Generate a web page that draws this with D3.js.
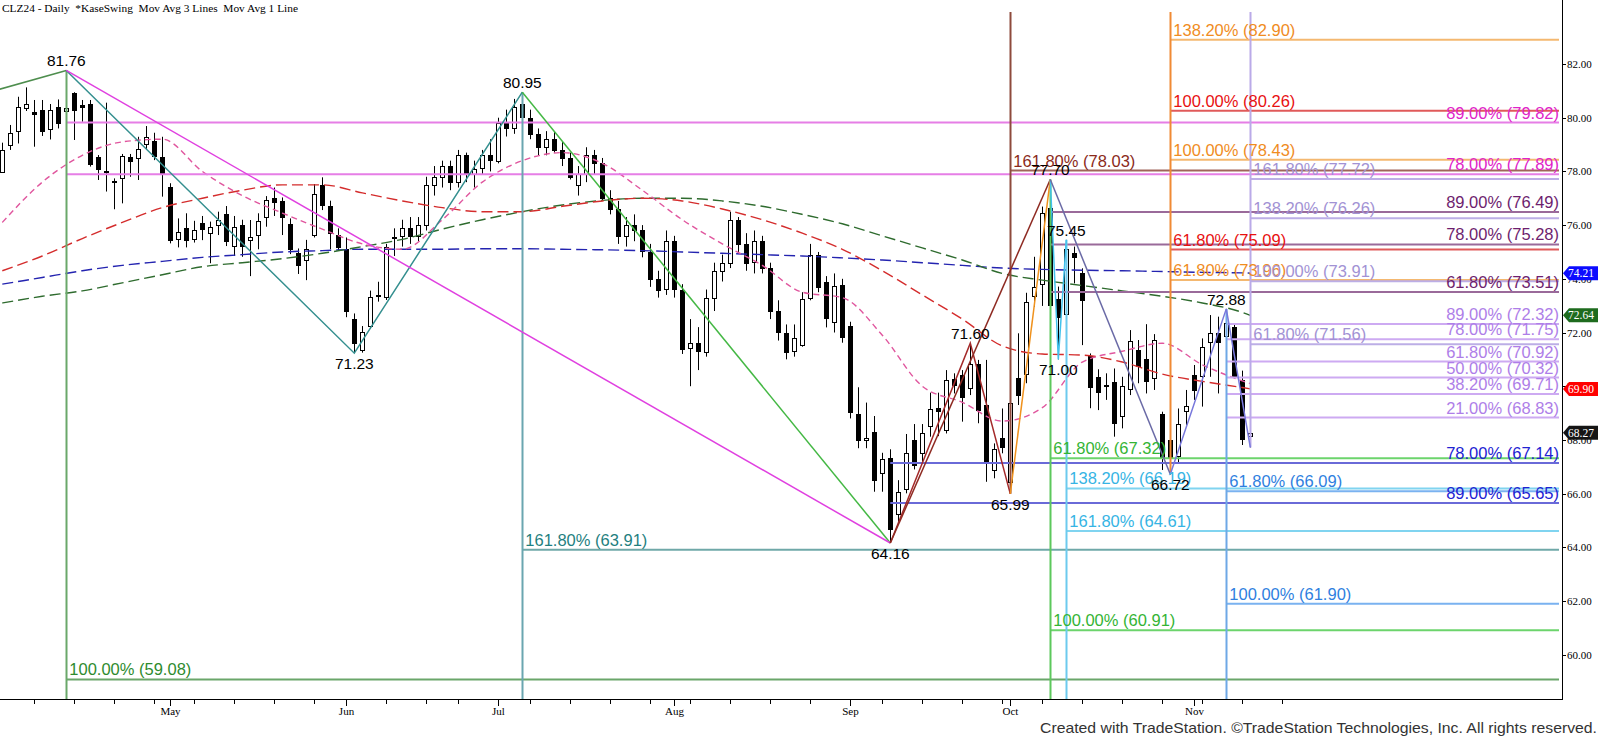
<!DOCTYPE html>
<html>
<head>
<meta charset="utf-8">
<title>CLZ24 - Daily</title>
<script src="https://cdn.jsdelivr.net/npm/d3@7"></script>
<style>
  html, body { margin: 0; padding: 0; background: #fff; }
  svg { display: block; }
  text { font-family: "Liberation Sans", Arial, sans-serif; }
  .serif { font-family: "Liberation Serif", "Times New Roman", serif; }
</style>
</head>
<body>
<svg id="chart" width="1600" height="739"></svg>
<script>
// ---------- data ----------
const holidays = ["2024-05-27", "2024-06-19", "2024-07-04", "2024-09-02"]
const firstDay = "2024-04-02"
const lastDay = "2024-11-18" // axis keeps a few empty sessions after the last bar

// daily bars, Apr 2 .. Nov 12 2024
const opens = [
  77.99, 78.98, 79.48, 80.35, 80.21, 80.29, 79.60, 80.41, 80.25, 80.91,
  80.46, 80.51, 78.55, 78.00, 77.63, 77.74, 78.55, 78.47, 79.04, 79.14,
  78.55, 77.41, 75.47, 75.88, 75.47, 76.07, 75.69, 76.00, 76.40, 75.22,
  76.00, 75.45, 75.63, 76.31, 77.00, 76.91, 76.04, 74.97, 74.68, 75.63,
  77.49, 76.71, 75.63, 75.10, 72.49, 71.37, 72.24, 73.40, 73.31, 75.50,
  75.6, 75.9, 75.6, 76.0, 77.5, 77.8, 78.2, 77.6, 78.6, 77.9,
  78.1, 78.6, 78.4, 79.8, 79.6, 80.5, 80.0, 79.4, 78.9, 79.2,
  78.8, 78.5, 77.5, 77.9, 78.6, 78.3, 77.0, 76.6, 75.6, 76.0,
  75.8, 75.0, 74.0, 73.6, 75.4, 73.6, 71.4, 71.6, 71.3, 73.3,
  74.3, 74.6, 76.2, 75.3, 74.6, 75.4, 74.4, 72.8, 72.0, 71.3,
  71.53, 73.3, 74.9, 73.89, 72.40, 73.77, 72.24, 68.97, 68.00, 68.28,
  66.75, 67.31, 65.23, 66.16, 67.99, 67.50, 68.52, 69.20, 68.37, 70.26,
  70.42, 69.92, 70.82, 69.30, 66.88, 68.06, 66.40, 70.29, 70.48, 73.36,
  73.83, 76.62, 73.23, 72.69, 74.97, 74.23, 71.12, 70.35, 70.06, 70.17,
  68.89, 69.92, 71.33, 71.00, 70.29, 68.96, 67.99, 67.40, 69.09, 70.42,
  70.38, 71.62, 71.99, 71.87, 72.22, 70.23, 68.14
]
const highs = [
  79.07, 79.73, 80.78, 81.13, 80.66, 80.66, 80.51, 80.68, 81.76, 80.95,
  80.66, 80.66, 78.61, 80.56, 77.74, 78.65, 78.65, 79.29, 79.69, 79.44,
  79.29, 77.56, 76.25, 76.44, 76.16, 76.34, 76.13, 76.50, 76.71, 76.34,
  76.20, 76.19, 76.44, 77.08, 77.40, 77.03, 76.25, 75.13, 75.45, 77.53,
  77.78, 76.91, 75.88, 75.54, 72.71, 72.24, 73.56, 73.89, 75.30, 75.88,
  76.2, 76.3, 76.3, 77.8, 78.2, 78.4, 78.4, 78.8, 78.7, 78.4,
  78.8, 79.2, 80.0, 80.3, 80.7, 80.95, 80.3, 79.6, 79.5, 79.5,
  79.1, 78.7, 78.2, 78.9, 78.8, 78.5, 77.3, 76.9, 76.3, 76.4,
  76.0, 75.3, 74.3, 75.8, 75.6, 73.8, 72.5, 72.2, 73.6, 74.6,
  74.9, 76.5, 76.3, 75.7, 75.8, 75.6, 74.6, 73.2, 72.3, 72.3,
  73.5, 75.3, 75.0, 74.1, 74.2, 74.0, 72.40, 69.96, 69.39, 68.89,
  67.52, 67.65, 66.50, 68.22, 68.59, 68.59, 69.76, 69.76, 70.60, 70.48,
  70.60, 71.60, 70.98, 70.98, 67.87, 69.17, 69.61, 71.97, 73.48, 74.82,
  76.69, 77.70, 73.71, 75.45, 75.20, 74.39, 71.22, 70.63, 70.48, 70.66,
  70.35, 72.09, 71.72, 72.31, 71.94, 69.05, 68.12, 69.17, 69.86, 70.79,
  71.78, 72.65, 72.59, 72.88, 72.28, 70.58, 69.14
]
const lows = [
  77.95, 78.80, 79.04, 80.25, 78.92, 79.32, 79.19, 79.60, 80.10, 79.17,
  79.85, 78.18, 77.68, 77.25, 76.59, 76.81, 77.80, 77.68, 78.80, 78.42,
  77.06, 75.32, 75.17, 75.17, 75.35, 75.44, 74.58, 75.63, 75.22, 74.85,
  74.82, 74.10, 75.10, 75.94, 76.34, 75.63, 74.92, 74.18, 73.95, 75.54,
  76.56, 75.10, 75.05, 72.57, 71.23, 71.25, 72.15, 73.15, 73.21, 74.85,
  75.2, 75.3, 75.4, 75.8, 77.1, 77.4, 77.3, 77.4, 77.6, 77.4,
  77.9, 78.0, 78.3, 79.3, 79.4, 79.8, 79.2, 78.6, 78.6, 78.7,
  78.2, 77.7, 77.1, 77.6, 77.9, 76.9, 76.4, 75.3, 75.2, 75.4,
  74.8, 73.7, 73.3, 73.4, 73.3, 71.2, 70.0, 70.6, 71.1, 72.8,
  73.9, 74.4, 75.0, 74.3, 74.2, 74.2, 72.5, 71.7, 71.0, 71.1,
  71.47, 73.2, 73.5, 72.19, 72.0, 71.62, 68.80, 67.69, 67.69, 66.07,
  66.07, 64.16, 64.83, 66.01, 66.90, 67.19, 68.12, 68.14, 68.24, 69.73,
  68.68, 69.67, 68.62, 66.44, 66.57, 67.50, 65.99, 69.30, 70.11, 72.96,
  72.99, 72.09, 71.00, 72.53, 73.83, 71.53, 69.18, 69.11, 69.49, 68.12,
  68.43, 69.67, 70.11, 69.73, 69.86, 66.88, 66.72, 67.13, 68.56, 69.49,
  69.24, 70.35, 69.73, 71.72, 70.29, 67.81, 67.72
]
const closes = [
  78.80, 79.42, 80.39, 80.50, 80.14, 79.52, 80.29, 79.81, 80.35, 80.26,
  80.39, 78.28, 78.11, 77.95, 77.60, 78.57, 78.40, 78.82, 79.29, 78.57,
  77.93, 75.42, 75.73, 75.44, 75.82, 75.84, 75.92, 76.19, 75.38, 75.92,
  75.20, 75.55, 76.16, 76.93, 76.84, 76.31, 75.10, 74.51, 75.10, 77.16,
  76.75, 75.69, 75.17, 72.78, 71.60, 72.03, 73.31, 73.38, 75.17, 75.55,
  75.9, 75.6, 76.0, 77.5, 77.8, 78.2, 77.6, 78.6, 77.9, 78.1,
  78.6, 78.4, 79.8, 79.6, 80.4, 80.0, 79.4, 78.9, 79.2, 78.8,
  78.5, 77.8, 77.9, 78.6, 78.3, 77.0, 76.6, 75.6, 76.0, 75.8,
  75.0, 74.0, 73.6, 75.4, 73.6, 71.4, 71.6, 71.3, 73.3, 74.3,
  74.6, 76.2, 75.3, 74.6, 75.4, 74.4, 72.8, 72.0, 71.3, 71.8,
  73.24, 74.9, 73.7, 72.56, 73.73, 71.85, 69.02, 68.02, 68.06, 66.48,
  67.28, 64.67, 66.05, 67.50, 67.06, 68.24, 69.14, 69.08, 70.23, 70.05,
  69.59, 70.83, 69.09, 67.15, 67.65, 67.72, 69.36, 69.67, 73.15, 73.68,
  76.46, 72.99, 72.56, 75.10, 74.82, 73.21, 69.98, 69.80, 70.04, 68.64,
  70.01, 71.70, 70.73, 70.17, 71.72, 67.31, 67.37, 68.59, 69.26, 69.86,
  71.45, 71.97, 71.66, 72.34, 70.36, 68.02, 68.27
]

// moving averages every 5th bar (last one at the final bar)
const maBars = d3.range(0, 156, 5).concat([156])
const maBlue = [73.8, 74.05, 74.3, 74.5, 74.65, 74.8, 74.9, 75.0, 75.05, 75.1, 75.1, 75.1, 75.12, 75.12, 75.1, 75.08, 75.05,
  75.0, 74.95, 74.9, 74.85, 74.78, 74.7, 74.6, 74.5, 74.4, 74.35, 74.32, 74.3, 74.27, 74.24, 74.22, 74.21]
const maGreen = [73.1, 73.35, 73.55, 73.85, 74.15, 74.45, 74.6, 74.75, 74.95, 75.2, 75.47, 75.85, 76.2, 76.5, 76.75, 76.92, 77.0,
  77.0, 76.9, 76.7, 76.4, 76.05, 75.6, 75.15, 74.7, 74.2, 73.95, 73.75, 73.55, 73.35, 73.1, 72.75, 72.64]
const maRed = [74.3, 74.85, 75.5, 76.1, 76.65, 77.0, 77.3, 77.5, 77.5, 77.2, 76.9, 76.65, 76.5, 76.5, 76.7, 76.9, 77.0,
  76.9, 76.6, 76.2, 75.7, 75.1, 74.3, 73.4, 72.5, 71.5, 71.2, 71.16, 70.9, 70.45, 70.18, 69.95, 69.9]
const maPink = [76.1, 77.6, 78.6, 79.1, 79.2, 78.0, 77.1, 76.45, 75.85, 75.3, 75.1, 76.2, 77.6, 78.4, 78.7, 78.3, 77.3,
  76.2, 75.3, 74.5, 73.5, 73.3, 71.9, 70.0, 69.4, 68.7, 69.2, 70.9, 71.3, 71.6, 70.8, 70.2, 70.1]

// KaseSwing turning points
const swingBars = [8, 44, 65, 111, 121, 126, 131, 132, 133, 146, 153]
const swingPrices = [81.76, 71.23, 80.95, 64.16, 71.60, 65.99, 77.70, 71.00, 75.45, 66.72, 72.88]
const swingKinds = ["H", "L", "H", "L", "H", "L", "H", "L", "H", "L", "H"]

// swing legs as [bar, price] points
const legs = [
  ["lead", [[-2, 80.92], [8, 81.76]]],
  ["teal", [[8, 81.76], [44, 71.23], [65, 80.95]]],
  ["green", [[65, 80.95], [111, 64.16]]],
  ["magenta", [[8, 81.76], [111, 64.16]]],
  ["darkRed", [[111, 64.16], [121, 71.60], [126, 65.99]]],
  ["brown", [[111, 64.16], [131, 77.70]]],
  ["orange", [[126, 65.99], [131, 77.70]]],
  ["cyan", [[131, 77.70], [132, 71.00], [133, 75.45]]],
  ["slate", [[131, 77.70], [146, 66.72]]],
  ["indigo", [[146, 66.72], [153, 72.88], [156, 67.72]]]
]

// vertical markers: [style, bar, from price, to price]; null runs to the plot edge
const markers = [
  ["darkGreen", 8, 81.76, null],
  ["teal", 65, 80.95, null],
  ["brown", 126, null, 65.99],
  ["green", 131, 77.70, null],
  ["cyan", 133, 75.45, null],
  ["orange", 146, null, 66.72],
  ["sky", 153, 72.88, null],
  ["lavender", 156, null, 67.72]
]

// fibonacci projections: [percent, price], each group starts at a bar
const fibDarkGreen = [["100.00%", 59.08]]
const fibTeal = [["161.80%", 63.91]]
const fibMagenta = [["89.00%", 79.82], ["78.00%", 77.89]]
const fibBrown = [["161.80%", 78.03]]
const fibOrange = [["138.20%", 82.90], ["100.00%", 78.43], ["61.80%", 73.96]]
const fibRed = [["100.00%", 80.26], ["61.80%", 75.09]]
const fibLavender = [["161.80%", 77.72], ["138.20%", 76.26], ["100.00%", 73.91], ["61.80%", 71.56]]
const fibPlum = [["89.00%", 76.49], ["78.00%", 75.28], ["61.80%", 73.51]]
const fibViolet = [["89.00%", 72.32], ["78.00%", 71.75], ["61.80%", 70.92], ["50.00%", 70.32], ["38.20%", 69.71], ["21.00%", 68.83]]
const fibGreen = [["61.80%", 67.32], ["100.00%", 60.91]]
const fibCyan = [["138.20%", 66.19], ["161.80%", 64.61]]
const fibBlue = [["78.00%", 67.14], ["89.00%", 65.65]]
const fibSky = [["61.80%", 66.09], ["100.00%", 61.90]]
const fibGroups = [
  ["darkGreen", 8, fibDarkGreen], ["teal", 65, fibTeal], ["magenta", 8, fibMagenta], ["brown", 126, fibBrown],
  ["orange", 146, fibOrange], ["red", 146, fibRed], ["lavender", 156, fibLavender], ["plum", 131, fibPlum],
  ["violet", 153, fibViolet], ["green", 131, fibGreen], ["cyan", 133, fibCyan], ["blue", 111, fibBlue], ["sky", 153, fibSky]
]

const tagPrices = [74.21, 72.64, 69.90, 68.27]
const priceTicks = d3.range(60, 83, 2)
const title = "CLZ24 - Daily  *KaseSwing  Mov Avg 3 Lines  Mov Avg 1 Line"
const credit = "Created with TradeStation. \u00A9TradeStation Technologies, Inc. All rights reserved."

// ---------- styles ----------
const legColor = {
  lead: "#4e8e4e", teal: "#348f8f", green: "#44b844", magenta: "#e040e0", darkRed: "#a42a2a", brown: "#8e2a22",
  orange: "#f0921e", cyan: "#42c2ec", slate: "#6a6aa6", indigo: "#7878dc"
}
const markColor = {
  darkGreen: "#6aa86a", teal: "#6aa6b0", brown: "#8e4a3c", green: "#5cc85c", cyan: "#6ccaee",
  orange: "#f08a34", sky: "#6ea8e6", lavender: "#baaae8"
}
const fibStyle = {
  darkGreen: { line: "#6aa66a", text: "#2e8b2e", side: "start" },
  teal: { line: "#6fa8a8", text: "#1f7f7f", side: "start" },
  magenta: { line: "#e67ee6", text: "#e024c8", side: "end" },
  brown: { line: "#a0645a", text: "#8b2a1a", side: "start" },
  orange: { line: "#f4b870", text: "#f08c1e", side: "start" },
  red: { line: "#e05a5a", text: "#e81010", side: "start" },
  lavender: { line: "#bcaee6", text: "#a292d4", side: "start" },
  plum: { line: "#9a6a9a", text: "#6e1e6e", side: "end" },
  violet: { line: "#cdaaf2", text: "#ae7ee8", side: "end" },
  green: { line: "#6cd46c", text: "#34b434", side: "start" },
  cyan: { line: "#80d4f0", text: "#36b4e4", side: "start" },
  blue: { line: "#6a6ad8", text: "#2222d2", side: "end" },
  sky: { line: "#7ab2f0", text: "#2f7fe0", side: "start" }
}
const maStyle = [
  { values: maBlue, color: "#2424b0", dash: "11,5" },
  { values: maGreen, color: "#2e6b2e", dash: "11,5" },
  { values: maRed, color: "#d42c2c", dash: "11,5" },
  { values: maPink, color: "#e0569e", dash: "6,4" }
]
const tagColors = ["#0c0cff", "#1e6b1e", "#ff0000", "#151515"]

// ---------- layout ----------
const svg = d3.select("#chart")
const plot = { left: 0, top: 0, right: 1562, bottom: 699, lineEnd: 1559, markTop: 12 }

// one session every 8px, bar 0 sits at x = 2.3
const x = d3.scaleLinear().domain([-0.2875, 194.9625]).range([plot.left, plot.right])
const y = d3.scaleLinear().domain([84.384, 58.35]).range([plot.top, plot.bottom])

const parse = d3.timeParse("%Y-%m-%d")
const fmt = d3.timeFormat("%Y-%m-%d")
const sessions = d3.timeDay.range(parse(firstDay), d3.timeDay.offset(parse(lastDay), 1))
  .filter(d => d.getDay() % 6 !== 0 && !holidays.includes(fmt(d)))
const idx = sessions.map((d, i) => i)
const weekStarts = idx.filter(i => i > 0 && sessions[i].getDay() < sessions[i - 1].getDay())
const monthStarts = idx.filter(i => i > 0 && sessions[i].getMonth() !== sessions[i - 1].getMonth())

svg.append("defs").append("clipPath").attr("id", "plotClip")
  .append("rect").attr("x", plot.left).attr("y", plot.top)
  .attr("width", plot.right - plot.left).attr("height", plot.bottom - plot.top)

const focus = svg.append("g").attr("clip-path", "url(#plotClip)")
const px = i => Math.round(x(i))

// candles
const bars = closes.map((c, i) => ({ i, o: opens[i], h: highs[i], l: lows[i], c }))
const candle = focus.append("g").selectAll("g").data(bars).enter().append("g")
candle.append("line")
  .attr("x1", d => px(d.i) + 0.5).attr("x2", d => px(d.i) + 0.5)
  .attr("y1", d => y(d.h)).attr("y2", d => y(d.l))
  .attr("stroke", "#000").attr("stroke-width", 1)
candle.append("rect")
  .attr("x", d => px(d.i) - 1.5)
  .attr("y", d => Math.round(y(Math.max(d.o, d.c))) + 0.5)
  .attr("width", 4)
  .attr("height", d => Math.max(1, Math.round(Math.abs(y(d.o) - y(d.c)))))
  .attr("fill", d => d.c >= d.o ? "#fff" : "#000")
  .attr("stroke", "#000").attr("stroke-width", 1)

// moving averages
const maLine = d3.line().x(d => x(d[0])).y(d => y(d[1])).curve(d3.curveMonotoneX)
focus.append("g").selectAll("path").data(maStyle).enter().append("path")
  .attr("d", s => maLine(maBars.map((b, k) => [b, s.values[k]])))
  .attr("fill", "none").attr("stroke", s => s.color)
  .attr("stroke-width", 1.4).attr("stroke-dasharray", s => s.dash)

// fibonacci levels
const fibRows = fibGroups.flatMap(([key, from, levels]) => levels.map(([pct, p]) => ({ key, from, pct, p })))
focus.append("g").selectAll("line").data(fibRows).enter().append("line")
  .attr("x1", d => x(d.from)).attr("x2", plot.lineEnd)
  .attr("y1", d => y(d.p)).attr("y2", d => y(d.p))
  .attr("stroke", d => fibStyle[d.key].line).attr("stroke-width", 2)

// vertical markers
focus.append("g").selectAll("line").data(markers).enter().append("line")
  .attr("x1", d => px(d[1]) + 0.5).attr("x2", d => px(d[1]) + 0.5)
  .attr("y1", d => d[2] === null ? plot.markTop : y(d[2]))
  .attr("y2", d => d[3] === null ? plot.bottom : y(d[3]))
  .attr("stroke", d => markColor[d[0]]).attr("stroke-width", 2)

// swing legs
const legLine = d3.line().x(d => x(d[0])).y(d => y(d[1]))
focus.append("g").selectAll("path").data(legs).enter().append("path")
  .attr("d", d => legLine(d[1]))
  .attr("fill", "none").attr("stroke", d => legColor[d[0]]).attr("stroke-width", 1.5)

// fib labels
svg.append("g").selectAll("text").data(fibRows).enter().append("text")
  .attr("x", d => fibStyle[d.key].side === "end" ? plot.lineEnd : x(d.from) + 3)
  .attr("y", d => y(d.p) - 4)
  .attr("text-anchor", d => fibStyle[d.key].side)
  .attr("fill", d => fibStyle[d.key].text)
  .style("font-size", "16.5px")
  .text(d => d.pct + " (" + d.p.toFixed(2) + ")")

// swing labels
svg.append("g").selectAll("text").data(swingBars).enter().append("text")
  .attr("x", d => x(d))
  .attr("y", (d, k) => swingKinds[k] === "H" ? y(swingPrices[k]) - 4 : y(swingPrices[k]) + 16)
  .attr("text-anchor", "middle")
  .attr("fill", "#000")
  .style("font-size", "15.5px")
  .text((d, k) => swingPrices[k].toFixed(2))

// axes
const axes = svg.append("g").attr("shape-rendering", "crispEdges")
axes.append("line").attr("x1", plot.left).attr("x2", plot.right + 0.5)
  .attr("y1", plot.bottom + 0.5).attr("y2", plot.bottom + 0.5).attr("stroke", "#000")
axes.append("line").attr("x1", plot.right + 0.5).attr("x2", plot.right + 0.5)
  .attr("y1", 0).attr("y2", plot.bottom + 0.5).attr("stroke", "#000")

axes.selectAll(".wk").data(weekStarts).enter().append("line")
  .attr("x1", d => px(d) + 0.5).attr("x2", d => px(d) + 0.5)
  .attr("y1", plot.bottom).attr("y2", d => monthStarts.includes(d) ? plot.bottom + 7 : plot.bottom + 4.5)
  .attr("stroke", "#000")
axes.selectAll(".mo").data(monthStarts).enter().append("line")
  .attr("x1", d => px(d) + 0.5).attr("x2", d => px(d) + 0.5)
  .attr("y1", plot.bottom).attr("y2", plot.bottom + 7).attr("stroke", "#000")
svg.append("g").selectAll("text").data(monthStarts).enter().append("text")
  .attr("class", "serif")
  .attr("x", d => px(d) + 0.5).attr("y", plot.bottom + 16)
  .attr("text-anchor", "middle").style("font-size", "11px")
  .text(d => d3.timeFormat("%b")(sessions[d]))

axes.selectAll(".pt").data(priceTicks).enter().append("line")
  .attr("x1", plot.right).attr("x2", plot.right + 4)
  .attr("y1", d => Math.round(y(d)) + 0.5).attr("y2", d => Math.round(y(d)) + 0.5)
  .attr("stroke", "#000")
svg.append("g").selectAll("text").data(priceTicks).enter().append("text")
  .attr("class", "serif")
  .attr("x", plot.right + 5).attr("y", d => y(d) + 4)
  .style("font-size", "11px")
  .text(d => d.toFixed(2))

// last-value tags on the price axis
const tags = svg.append("g").selectAll("g").data(tagPrices).enter().append("g")
  .attr("transform", d => "translate(" + plot.right + "," + y(d) + ")")
tags.append("path")
  .attr("d", "M1,0 L7,-7 L36,-7 L36,7 L7,7 Z")
  .attr("fill", (d, k) => tagColors[k])
tags.append("text")
  .attr("class", "serif")
  .attr("x", 6).attr("y", 4)
  .attr("fill", "#fff").style("font-size", "11.5px")
  .text(d => d.toFixed(2))

// title and credit
svg.append("text").attr("class", "serif")
  .attr("x", 2).attr("y", 11.5)
  .attr("textLength", 296).attr("lengthAdjust", "spacingAndGlyphs")
  .style("font-size", "11px").style("white-space", "pre")
  .text(title)
svg.append("text")
  .attr("x", 1040).attr("y", 733)
  .attr("textLength", 557).attr("lengthAdjust", "spacingAndGlyphs")
  .attr("fill", "#333").style("font-size", "14.5px")
  .text(credit)
</script>
</body>
</html>
